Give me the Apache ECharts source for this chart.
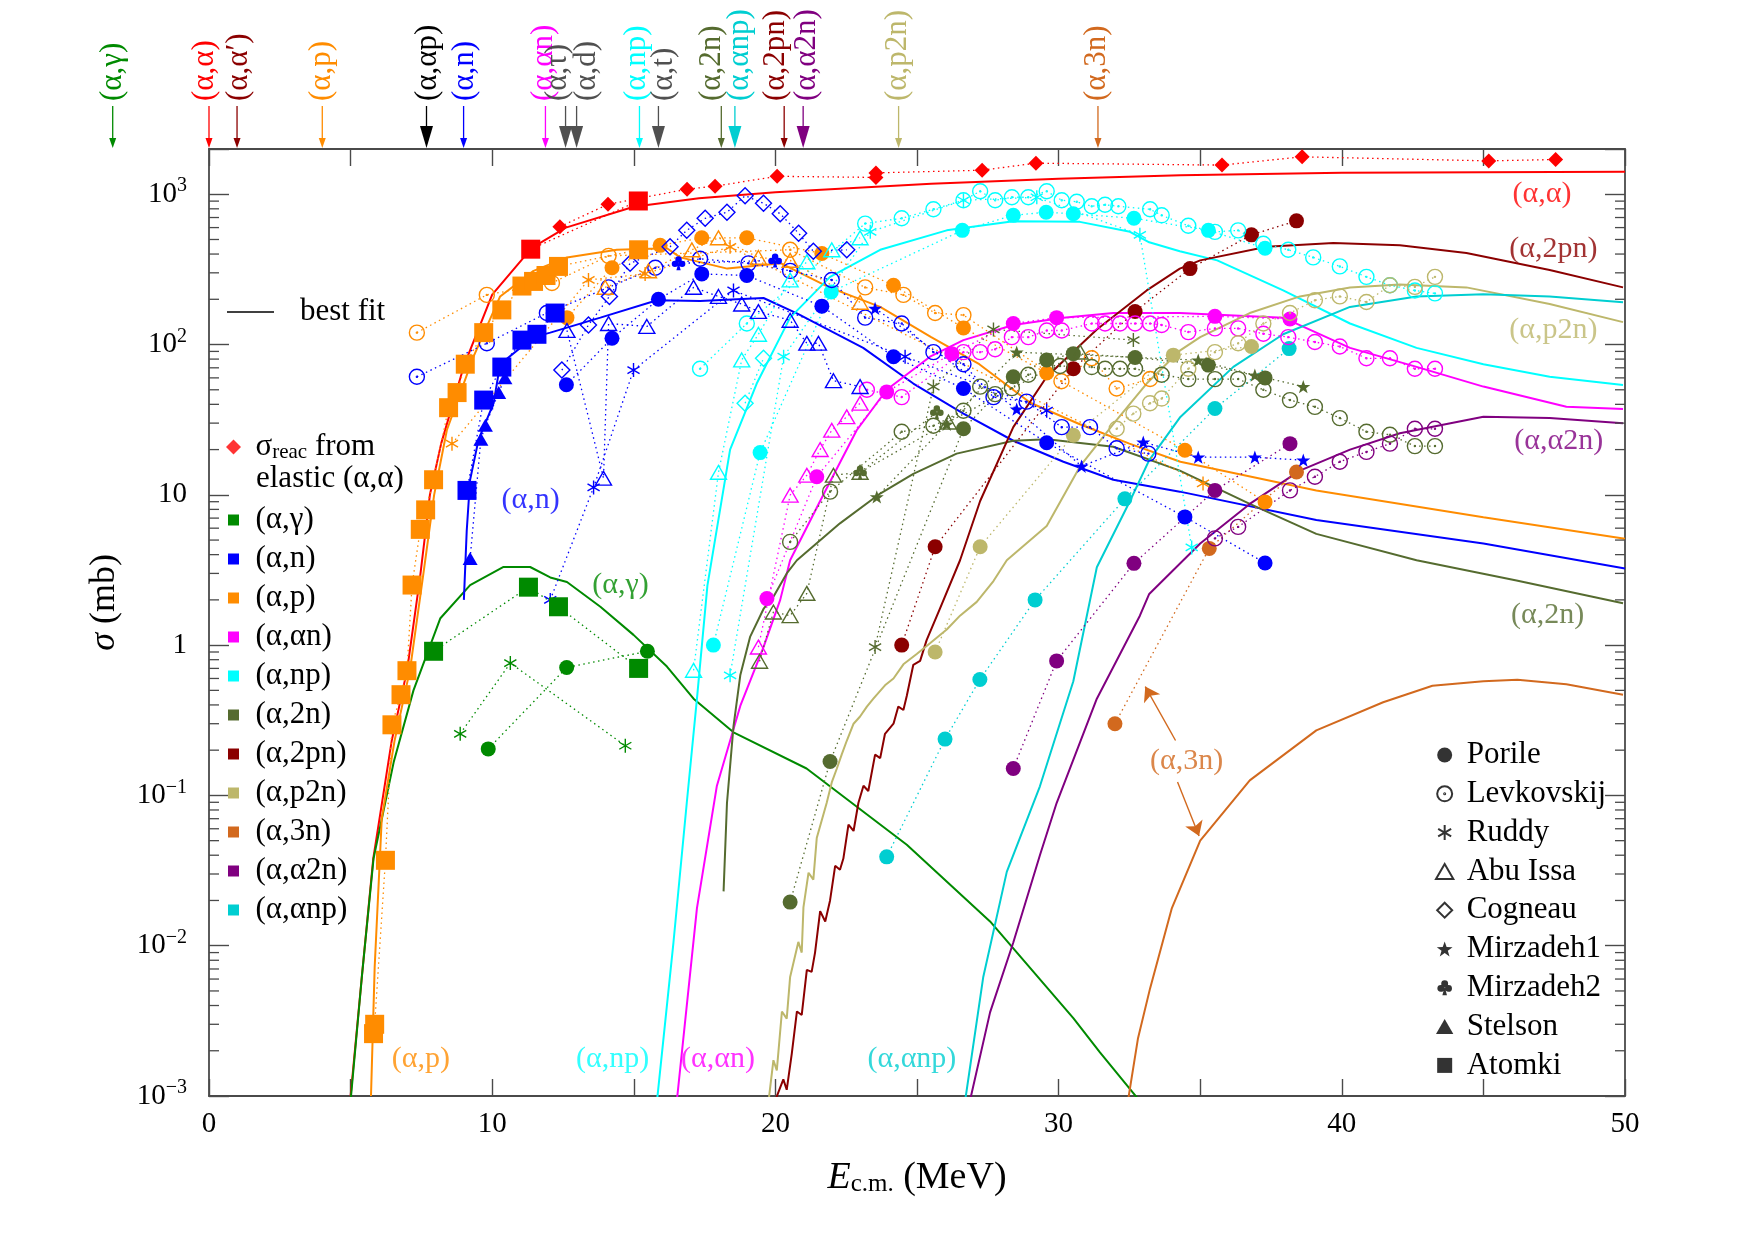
<!DOCTYPE html>
<html>
<head>
<meta charset="utf-8">
<title>Alpha-induced reaction cross sections</title>
<script src="https://cdn.jsdelivr.net/npm/echarts@6/dist/echarts.min.js"></script>
<style>
  html, body { margin: 0; padding: 0; background: #fff; }
  #chart { width: 1759px; height: 1245px; }
</style>
</head>
<body>
<div id="chart"></div>
<script>
// ---- best-fit calculations, [E_cm (MeV), sigma (mb)] ----
const fitAA = [[5.0, 0.001], [5.4, 0.0063], [5.8, 0.038], [6.05, 0.076], [6.45, 0.23], [7.0, 0.69], [7.45, 2.8], [7.8, 10], [8.2, 22], [9.0, 72], [10.0, 215], [11.4, 440], [12.6, 600], [15.0, 825], [17.3, 940], [20.0, 1030], [25.5, 1175], [30.0, 1270], [34.3, 1340], [40.0, 1390], [50.0, 1410]];
const fitAG = [[5.0, 0.00093], [5.4, 0.0063], [5.81, 0.038], [6.52, 0.166], [7.22, 0.5], [8.17, 1.51], [9.22, 2.51], [10.4, 3.31], [11.34, 3.31], [12.05, 2.82], [12.64, 2.63], [13.82, 1.8], [14.99, 1.17], [16.17, 0.72], [17.11, 0.44], [18.52, 0.263], [21.1, 0.151], [24.64, 0.047], [27.58, 0.0145], [30.52, 0.0033], [31.46, 0.00195], [32.9, 0.00091]];
const fitAN = [[9.0, 2.0], [9.1, 5.75], [9.22, 12.6], [9.52, 23.4], [10.05, 40.7], [10.28, 74], [11.46, 112], [12.05, 120], [13.82, 151], [15.82, 197], [17.34, 195], [19.58, 204], [20.76, 161], [23.1, 95], [24.87, 55], [26.64, 34.7], [28.4, 22.9], [30.17, 16.6], [31.93, 12.6], [34.28, 10.5], [39.1, 6.8], [45.0, 4.74], [50.0, 3.24]];
const fitAP = [[5.72, 0.001], [5.85, 0.0072], [6.1, 0.07], [6.55, 0.23], [7.1, 0.69], [7.55, 2.8], [7.95, 10], [8.4, 27], [9.34, 83], [10.28, 209], [11.46, 309], [12.64, 380], [14.4, 427], [16.17, 437], [16.64, 380], [18.3, 320], [20.2, 347], [21.9, 240], [23.7, 178], [25.5, 112], [27.2, 74], [29.0, 41], [30.75, 29.5], [32.5, 21.9], [34.3, 16.6], [39.1, 10.7], [45.0, 7.1], [50.0, 5.1]];
const fitAAN = [[16.52, 0.00093], [17.23, 0.0178], [17.93, 0.115], [18.76, 0.394], [19.58, 0.97], [20.17, 2.0], [20.52, 3.67], [21.58, 9.1], [22.87, 26.9], [23.93, 50], [25.46, 83], [26.64, 107], [28.4, 135], [30.17, 151], [31.93, 162], [34.28, 162], [37.93, 151], [40.29, 95], [42.64, 71], [45.0, 52.5], [47.93, 38.5], [49.93, 37.2]];
const fitANP = [[15.82, 0.00093], [16.4, 0.0105], [16.87, 0.089], [17.23, 0.44], [17.6, 2.5], [18.4, 20], [19.34, 55], [20.52, 151], [21.93, 282], [23.7, 427], [26.05, 575], [28.4, 661], [30.75, 655], [32.52, 562], [33.2, 479], [34.28, 417], [35.6, 363], [37.93, 229], [40.29, 138], [42.64, 95], [45.0, 74], [47.34, 61], [49.93, 53.7]];
const fitA2N = [[18.17, 0.023], [18.29, 0.089], [18.52, 0.288], [18.76, 0.63], [19.11, 1.14], [19.58, 1.74], [19.93, 2.1], [20.4, 3.0], [20.76, 3.67], [22.28, 6.46], [23.7, 10.2], [24.87, 13.8], [26.4, 18.8], [28.4, 22.9], [29.6, 23.4], [31.93, 20.9], [34.28, 14.5], [36.75, 8.7], [39.1, 5.5], [42.64, 3.67], [46.17, 2.69], [49.93, 1.9]];
const fitA2PN = [[19.99, 0.00093], [20.28, 0.00129], [20.4, 0.0011], [20.58, 0.00192], [20.76, 0.00365], [20.93, 0.00346], [21.11, 0.0069], [21.28, 0.0067], [21.4, 0.009], [21.58, 0.017], [21.76, 0.0145], [21.93, 0.02], [22.11, 0.034], [22.28, 0.032], [22.4, 0.038], [22.58, 0.064], [22.76, 0.058], [22.93, 0.089], [23.11, 0.116], [23.28, 0.107], [23.52, 0.187], [23.7, 0.177], [23.87, 0.257], [24.17, 0.3], [24.34, 0.39], [24.52, 0.37], [24.64, 0.46], [24.87, 0.74], [25.11, 0.785], [25.34, 1.08], [25.81, 1.75], [26.52, 3.67], [27.23, 9.1], [28.4, 28.2], [29.58, 61], [31.35, 126], [33.11, 229], [34.28, 320], [35.0, 363], [37.35, 447], [39.7, 474], [42.05, 457], [44.4, 407], [47.34, 313], [49.93, 240]];
const fitAP2N = [[19.76, 0.00093], [19.93, 0.00173], [20.05, 0.00148], [20.23, 0.00365], [20.4, 0.00327], [20.52, 0.0062], [20.81, 0.0106], [20.93, 0.009], [20.99, 0.018], [21.17, 0.0306], [21.34, 0.0275], [21.46, 0.052], [21.81, 0.089], [21.99, 0.122], [22.17, 0.151], [22.34, 0.187], [22.52, 0.231], [22.76, 0.3], [22.99, 0.335], [23.23, 0.39], [23.46, 0.44], [23.87, 0.54], [24.17, 0.6], [24.52, 0.745], [24.99, 0.873], [25.46, 1.03], [26.05, 1.27], [26.52, 1.57], [27.11, 1.94], [27.7, 2.67], [28.17, 3.67], [29.58, 6.2], [30.76, 15.5], [31.93, 29.5], [33.11, 55], [34.28, 91], [35.0, 112], [36.75, 162], [38.52, 209], [40.29, 240], [42.05, 251], [44.4, 240], [47.34, 186], [49.93, 141]];
const fitA3N = [[32.45, 0.00093], [32.8, 0.0024], [33.23, 0.0052], [34.0, 0.0178], [35.0, 0.05], [36.75, 0.126], [39.1, 0.271], [41.46, 0.417], [43.2, 0.537], [45.0, 0.575], [46.2, 0.589], [47.93, 0.55], [49.93, 0.468]];
const fitAA2N = [[26.87, 0.00093], [27.58, 0.0036], [28.4, 0.0105], [29.34, 0.04], [29.93, 0.089], [31.35, 0.44], [32.87, 1.57], [33.2, 2.19], [35.0, 4.74], [36.75, 8.7], [38.52, 14.5], [40.29, 20], [42.05, 25.7], [45.0, 33.1], [47.34, 32.4], [49.93, 29.9]];
const fitAANP = [[26.7, 0.00093], [27.34, 0.0062], [28.17, 0.031], [29.34, 0.115], [30.52, 0.575], [31.35, 3.3], [32.52, 9.1], [33.2, 17], [34.3, 33], [36.17, 71], [37.93, 117], [40.29, 178], [42.64, 209], [45.0, 216], [47.34, 209], [49.93, 191]];

// ---- measured data, [E_cm (MeV), sigma (mb)] ----
const reacElastic = [[12.39, 608], [14.09, 857], [16.88, 1081], [17.87, 1132], [20.06, 1316], [23.55, 1294], [23.55, 1387], [27.3, 1445], [29.2, 1610], [35.77, 1563], [38.6, 1774], [45.19, 1667], [47.55, 1703]];
const atomkiAA = [[11.36, 431], [15.16, 902]];
const atomkiAP = [[5.81, 0.0026], [5.85, 0.003], [6.23, 0.037], [6.46, 0.295], [6.78, 0.468], [6.99, 0.676], [7.17, 2.51], [7.46, 5.89], [7.65, 7.94], [7.93, 12.6], [8.46, 38], [8.76, 47.9], [9.05, 74], [9.7, 120], [10.34, 170], [11.05, 245], [11.46, 263], [11.9, 288], [12.34, 331], [15.17, 427]];
const atomkiAN = [[9.11, 10.7], [9.7, 42.7], [10.34, 70.8], [11.05, 107], [11.58, 117], [12.22, 162]];
const atomkiAG = [[7.93, 0.91], [11.28, 2.43], [12.34, 1.8], [15.17, 0.7]];
const stelsonAN = [[9.22, 3.77], [9.6, 23.4], [9.76, 29], [10.23, 47.9], [10.45, 60]];

const porileAG = [[9.86, 0.204], [12.63, 0.71], [15.48, 0.91]];
const porileAN = [[12.62, 54], [14.23, 110], [15.87, 200], [17.4, 295], [18.99, 288], [21.64, 180], [24.17, 83], [26.64, 51], [29.58, 22.2], [34.46, 7.13], [37.29, 3.52]];
const porileAP = [[12.64, 151], [14.23, 324], [15.93, 457], [17.4, 513], [18.99, 513], [21.64, 403], [24.17, 248], [26.64, 129], [29.58, 64.6], [34.46, 19.8], [37.29, 8.97]];
const porileAAN = [[19.7, 2.04], [21.46, 13.2], [23.93, 48.4], [26.23, 87], [28.4, 138], [29.93, 151], [35.52, 154], [38.17, 148]];
const porileANP = [[17.81, 1.0], [19.46, 19.1], [21.97, 224], [26.6, 575], [28.4, 724], [29.56, 759], [30.52, 741], [32.66, 692], [35.29, 575], [37.29, 437]];
const porileA2N = [[20.52, 0.0195], [21.93, 0.168], [26.64, 27.5], [28.4, 61], [29.58, 79], [30.52, 87], [32.7, 82], [35.29, 73], [37.29, 60]];
const porileA2PN = [[24.46, 1.0], [25.64, 4.51], [30.52, 69], [32.7, 166], [34.64, 320], [36.81, 537], [38.4, 665]];
const porileAP2N = [[25.64, 0.9], [27.23, 4.51], [30.52, 24.9], [34.05, 85], [36.81, 97]];
const porileAA2N = [[28.4, 0.151], [29.93, 0.785], [32.66, 3.5], [35.52, 10.7], [38.17, 21.9]];
const porileA3N = [[31.99, 0.3], [35.32, 4.4], [38.4, 14.2]];
const porileAANP = [[23.93, 0.039], [25.99, 0.237], [27.22, 0.59], [29.17, 2.0], [32.34, 9.4], [35.52, 37.5], [38.14, 94]];

const levAN = [[7.34, 61], [9.81, 102], [11.93, 162], [14.11, 240], [15.76, 324], [17.34, 372], [19.05, 347], [20.52, 309], [21.99, 269], [23.17, 151], [24.46, 138], [25.58, 89], [26.64, 74], [27.7, 44.7], [28.87, 41.7], [30.11, 28.2], [31.11, 28.2], [32.05, 20.4], [33.17, 18.8]];
const levAP = [[7.34, 120], [9.81, 214], [12.11, 257], [14.11, 389], [20.52, 427], [23.17, 240], [24.52, 214], [25.64, 162], [26.64, 157], [30.1, 57], [31.17, 81], [32.05, 51], [33.23, 59]];
const levANP = [[17.34, 69], [18.99, 138], [23.17, 638], [24.46, 692], [25.58, 794], [26.64, 912], [27.23, 1047], [27.76, 912], [28.35, 955], [28.93, 955], [29.58, 1047], [30.11, 912], [30.64, 891], [31.17, 832], [31.64, 851], [32.11, 832], [33.23, 794], [33.64, 724], [34.58, 617], [35.52, 562], [36.34, 575], [37.23, 468], [38.11, 427], [38.99, 380], [39.93, 331], [40.87, 282], [41.7, 248], [42.58, 229], [43.29, 219]];
const levAAN = [[23.23, 50], [24.46, 44.7], [26.64, 89], [27.23, 89], [27.76, 93], [28.35, 112], [28.93, 112], [29.58, 124], [30.11, 124], [31.17, 138], [31.64, 138], [32.17, 138], [32.7, 138], [33.23, 138], [33.64, 135], [34.58, 121], [35.52, 128], [36.34, 128], [37.23, 118], [38.11, 112], [39.05, 104], [39.93, 97], [40.87, 81], [41.7, 81], [42.58, 69], [43.29, 69]];
const levA2N = [[20.52, 4.86], [21.93, 10.5], [24.46, 26.3], [25.58, 28.8], [26.64, 36.3], [27.23, 52.5], [27.76, 46.8], [28.35, 51.3], [28.93, 63], [30.05, 72], [31.17, 70.8], [31.64, 69], [32.17, 69], [32.7, 69], [33.64, 63], [34.58, 58.9], [35.52, 58.9], [36.34, 58.9], [37.23, 50], [38.17, 42.7], [39.05, 38.5], [39.93, 32.4], [40.87, 26.3], [41.7, 25.1], [42.58, 21.1], [43.29, 21.1]];
const levAP2N = [[32.05, 27.5], [32.64, 34.7], [33.23, 40.7], [33.64, 43.7], [34.58, 69], [35.52, 89], [36.34, 102], [37.23, 138], [38.17, 162], [39.05, 197], [39.93, 209], [40.87, 192], [41.7, 248], [42.58, 242], [43.29, 282]];
const levAA2N = [[35.52, 5.13], [36.34, 6.12], [38.17, 10.7], [39.05, 13.2], [39.93, 16.6], [40.87, 19.3], [41.7, 21.9], [42.58, 27.5], [43.29, 27.5]];

const ruddyAG = [[8.87, 0.257], [10.64, 0.76], [14.7, 0.214]];
const ruddyAP = [[8.58, 21.9], [13.4, 269], [15.4, 295], [18.4, 447], [35.1, 11.9]];
const ruddyAN = [[12.05, 2.0], [13.58, 11.2], [14.99, 67.6], [18.52, 229], [24.58, 83], [29.58, 36.3]];
const ruddyANP = [[18.4, 0.63], [20.29, 83], [23.35, 562], [26.64, 912], [29.23, 955], [32.87, 537], [34.7, 4.47]];
const ruddyA2N = [[23.52, 0.97], [25.58, 52.5], [27.7, 126], [32.64, 107]];

const abuAN = [[12.64, 124], [13.93, 12.9], [14.11, 138], [15.46, 132], [17.11, 240], [17.99, 209], [18.81, 186], [19.4, 166], [20.52, 145], [21.11, 102], [21.52, 102], [22.05, 57.5], [22.99, 52.5]];
const abuAP = [[13.99, 240], [15.52, 309], [17.05, 427], [17.99, 513], [19.4, 380], [20.52, 363], [22.99, 191]];
const abuANP = [[17.11, 0.68], [17.99, 14.1], [18.81, 79], [19.4, 117], [20.52, 269], [21.11, 355], [21.99, 427], [22.99, 513]];
const abuAAN = [[19.4, 0.97], [20.52, 9.95], [21.11, 13.5], [21.58, 20], [21.99, 26.9], [22.52, 33.1], [22.99, 40.7]];
const abuA2N = [[19.44, 0.78], [19.93, 1.66], [20.52, 1.57], [21.11, 2.21], [22.05, 13.5], [22.99, 14.1], [26.11, 30.5], [30.76, 89]];

const cogAN = [[12.46, 67.6], [13.4, 135], [14.14, 209], [14.87, 347], [16.28, 447], [16.87, 575], [17.52, 692], [18.29, 759], [18.93, 977], [19.58, 871], [20.17, 741], [20.82, 550], [21.34, 417], [22.52, 427]];
const cogANP = [[18.93, 40.7], [19.58, 81]];

const mir1AN = [[23.52, 174], [28.52, 37.2], [30.81, 15.5], [32.99, 22.4], [34.93, 17.8], [36.93, 17.8], [38.64, 17]];
const mir1A2N = [[23.58, 9.7], [26.05, 29.5], [28.52, 89], [34.93, 78.7], [36.93, 62.5], [38.64, 52.5]];
const mir2AN = [[16.58, 347], [19.99, 363]];
const mir2A2N = [[22.99, 14.1], [25.7, 35.5]];

// ---- reaction thresholds shown above the frame ----
const thresholdNames = ['(α,γ)', '(α,α)', '(α,α′)', '(α,p)', '(α,αp)', '(α,n)', '(α,αn)', '(α,τ)', '(α,d)', '(α,np)', '(α,t)', '(α,2n)', '(α,αnp)', '(α,2pn)', '(α,α2n)', '(α,p2n)', '(α,3n)'];
const thresholdE = [-3.4, 0, 0.99, 4.0, 7.68, 8.99, 11.88, 12.59, 12.98, 15.2, 15.87, 18.09, 18.57, 20.31, 20.98, 24.35, 31.39];
const thresholdTextE = [-3.4, -0.15, 1.07, 4.0, 7.72, 9.03, 11.84, 12.31, 13.34, 15.12, 16.07, 17.74, 18.76, 20.03, 21.1, 24.31, 31.35];

// ---- curve labels inside the frame ----
const curveLabelText = ['(α,α)', '(α,2pn)', '(α,p2n)', '(α,α2n)', '(α,2n)', '(α,n)', '(α,γ)', '(α,p)', '(α,np)', '(α,αn)', '(α,αnp)', '(α,3n)'];
const curveLabelE = [47.07, 47.47, 47.47, 47.66, 47.27, 11.36, 14.53, 7.48, 14.25, 17.97, 24.82, 34.52];
const curveLabelSigma = [1000, 431, 125, 22.8, 1.58, 9.2, 2.49, 0.00176, 0.00176, 0.00176, 0.00176, 0.17];

const channelNames = ['(α,γ)', '(α,n)', '(α,p)', '(α,αn)', '(α,np)', '(α,2n)', '(α,2pn)', '(α,p2n)', '(α,3n)', '(α,α2n)', '(α,αnp)'];

const FONT = '"Liberation Serif", "DejaVu Serif", serif';
const AXIS = '#4a4a4a';
const COLORS = {
  aa: '#ff0000', ag: '#008a00', an: '#0000ff', ap: '#ff8c00', aan: '#ff00ff', anp: '#00ffff',
  a2n: '#556b2f', a2pn: '#8b0000', ap2n: '#bdb76b', a3n: '#d2691e', aa2n: '#800080', aanp: '#00ced1',
  gray: '#505050', black: '#000000'
};
const thresholdKey = ['ag', 'aa', 'a2pn', 'ap', 'black', 'an', 'aan', 'gray', 'gray', 'anp', 'gray', 'a2n', 'aanp', 'a2pn', 'aa2n', 'ap2n', 'a3n'];
const thresholdBig = [false, false, false, false, true, false, false, true, true, false, true, false, true, false, true, false, false];
const curveLabelKey = ['aa', 'a2pn', 'ap2n', 'aa2n', 'a2n', 'an', 'ag', 'ap', 'anp', 'aan', 'aanp', 'a3n'];

const SYM = {
  circle: 'path://M0,10A10,10 0 1,1 20,10A10,10 0 1,1 0,10Z',
  ring: 'path://M0,10A10,10 0 1,1 20,10A10,10 0 1,1 0,10Z M9.3,10A0.7,0.7 0 1,1 10.7,10A0.7,0.7 0 1,1 9.3,10Z',
  square: 'path://M0,0H20V20H0Z',
  tri: 'path://M10,0L20,17.3L0,17.3Z',
  diamond: 'path://M10,0L20,10L10,20L0,10Z',
  aster: 'path://M10,0L10,20M1.34,5L18.66,15M1.34,15L18.66,5',
  star: 'path://M10,0L12.35,6.76L19.51,6.91L13.8,11.24L15.88,18.09L10,14L4.12,18.09L6.2,11.24L0.49,6.91L7.65,6.76Z',
  club: 'path://M10,0.5A4.5,4.5 0 1,1 9.99,0.5Z M5,6.5A4.5,4.5 0 1,1 4.99,6.5Z M15,6.5A4.5,4.5 0 1,1 14.99,6.5Z M10,9L13,20L7,20Z',
  dash: 'path://M0,0H47V1.6H0Z'
};
const MARKERS = {
  porile: { symbol: SYM.circle, size: 15, open: false },
  lev: { symbol: SYM.ring, size: 15, open: true },
  ruddy: { symbol: SYM.aster, size: 14, open: true },
  abu: { symbol: SYM.tri, size: 16, open: true },
  cog: { symbol: SYM.diamond, size: 16, open: true },
  mir1: { symbol: SYM.star, size: 14, open: false },
  mir2: { symbol: SYM.club, size: 14, open: false },
  stelson: { symbol: SYM.tri, size: 15, open: false },
  atomki: { symbol: SYM.square, size: 19, open: false },
  reac: { symbol: SYM.diamond, size: 15, open: false }
};
const DATASETS = [['Porile', 'porile'], ['Levkovskij', 'lev'], ['Ruddy', 'ruddy'], ['Abu Issa', 'abu'], ['Cogneau', 'cog'], ['Mirzadeh1', 'mir1'], ['Mirzadeh2', 'mir2'], ['Stelson', 'stelson'], ['Atomki', 'atomki']];

const fits = [
  ['(α,α) fit', 'aa', fitAA], ['(α,γ)', 'ag', fitAG], ['(α,n)', 'an', fitAN], ['(α,p)', 'ap', fitAP],
  ['(α,αn)', 'aan', fitAAN], ['(α,np)', 'anp', fitANP], ['(α,2n)', 'a2n', fitA2N], ['(α,2pn)', 'a2pn', fitA2PN],
  ['(α,p2n)', 'ap2n', fitAP2N], ['(α,3n)', 'a3n', fitA3N], ['(α,α2n)', 'aa2n', fitAA2N], ['(α,αnp)', 'aanp', fitAANP]
];
const pointSets = [
  ['porile', 'ag', porileAG], ['porile', 'an', porileAN], ['porile', 'ap', porileAP], ['porile', 'aan', porileAAN],
  ['porile', 'anp', porileANP], ['porile', 'a2n', porileA2N], ['porile', 'a2pn', porileA2PN], ['porile', 'ap2n', porileAP2N],
  ['porile', 'aa2n', porileAA2N], ['porile', 'a3n', porileA3N], ['porile', 'aanp', porileAANP],
  ['lev', 'an', levAN], ['lev', 'ap', levAP], ['lev', 'anp', levANP], ['lev', 'aan', levAAN],
  ['lev', 'a2n', levA2N], ['lev', 'ap2n', levAP2N], ['lev', 'aa2n', levAA2N],
  ['ruddy', 'ag', ruddyAG], ['ruddy', 'ap', ruddyAP], ['ruddy', 'an', ruddyAN], ['ruddy', 'anp', ruddyANP], ['ruddy', 'a2n', ruddyA2N],
  ['abu', 'an', abuAN], ['abu', 'ap', abuAP], ['abu', 'anp', abuANP], ['abu', 'aan', abuAAN], ['abu', 'a2n', abuA2N],
  ['cog', 'an', cogAN], ['cog', 'anp', cogANP],
  ['mir1', 'an', mir1AN], ['mir1', 'a2n', mir1A2N], ['mir2', 'an', mir2AN], ['mir2', 'a2n', mir2A2N],
  ['stelson', 'an', stelsonAN],
  ['atomki', 'ap', atomkiAP], ['atomki', 'an', atomkiAN], ['atomki', 'ag', atomkiAG], ['atomki', 'aa', atomkiAA],
  ['reac', 'aa', reacElastic]
];

// minor ticks of the log axis (2..9 x 10^n)
const yMinor = [];
for (let p = -3; p <= 3; p++) {
  for (let k = 2; k <= 9; k++) {
    const v = k * Math.pow(10, p);
    if (v < 2000) yMinor.push(v);
  }
}

function yLabel(v) {
  const lg = Math.log10(v);
  const e = Math.round(lg);
  if (Math.abs(lg - e) > 1e-6) return '';
  if (e === 0) return '1';
  if (e === 1) return '10';
  return '10{sup|' + (e < 0 ? '−' : '') + Math.abs(e) + '}';
}

function renderMinorTicks(params, api) {
  const cs = params.coordSys;
  const y = api.coord([0, api.value(1)])[1];
  return {
    type: 'group',
    children: [
      { type: 'line', shape: { x1: cs.x, y1: y, x2: cs.x + 10, y2: y }, style: { stroke: AXIS, lineWidth: 1.3 } },
      { type: 'line', shape: { x1: cs.x + cs.width - 10, y1: y, x2: cs.x + cs.width, y2: y }, style: { stroke: AXIS, lineWidth: 1.3 } }
    ]
  };
}

function renderThreshold(params, api) {
  const i = api.value(2);
  const top = params.coordSys.y;
  const xa = api.coord([thresholdE[i], 1])[0];
  const xt = api.coord([thresholdTextE[i], 1])[0];
  const color = COLORS[thresholdKey[i]];
  const headL = thresholdBig[i] ? 22 : 10;
  const headW = thresholdBig[i] ? 6.5 : 3.5;
  return {
    type: 'group',
    children: [
      { type: 'line', shape: { x1: xa, y1: top - 43, x2: xa, y2: top - headL }, style: { stroke: color, lineWidth: 1.3 } },
      { type: 'polygon', shape: { points: [[xa - headW, top - headL - 1], [xa + headW, top - headL - 1], [xa, top - 1]] }, style: { fill: color } },
      { type: 'text', x: xt, y: top - 48, rotation: Math.PI / 2,
        style: { text: thresholdNames[i], fill: color, fontSize: 31, fontFamily: FONT, align: 'left', verticalAlign: 'middle' } }
    ]
  };
}

const series = [];
fits.forEach(([name, key, data]) => {
  series.push({
    type: 'line', name, data, symbol: 'none', clip: true, silent: true, z: 3,
    lineStyle: { color: COLORS[key], width: 2 }, itemStyle: { color: COLORS[key] }
  });
});
pointSets.forEach(([ds, key, data]) => {
  const m = MARKERS[ds];
  const c = COLORS[key];
  series.push({
    type: 'line', data, symbol: m.symbol, symbolSize: m.size, symbolKeepAspect: true, showSymbol: true,
    clip: true, silent: true, z: 4,
    lineStyle: { color: c, width: 1.3, type: [1.5, 3.5] },
    itemStyle: m.open ? { color: 'rgba(0,0,0,0)', borderColor: c, borderWidth: 1.4 } : { color: c }
  });
});

// entries that only feed the legends
series.push({ type: 'line', name: 'best fit', data: [], symbol: 'none', lineStyle: { color: '#000', width: 1.6 }, itemStyle: { color: '#000' } });
series.push({ type: 'scatter', name: 'σreac', data: [], symbol: SYM.diamond, symbolKeepAspect: true, itemStyle: { color: COLORS.aa } });
DATASETS.forEach(([name, ds]) => {
  const m = MARKERS[ds];
  series.push({
    type: 'scatter', name, data: [], symbol: m.symbol, symbolKeepAspect: true,
    itemStyle: m.open ? { color: 'rgba(0,0,0,0)', borderColor: '#000', borderWidth: 1.3 } : { color: '#000' }
  });
});

series.push({ type: 'custom', data: yMinor.map(v => [0, v]), renderItem: renderMinorTicks, silent: true, z: 5 });
series.push({ type: 'custom', data: thresholdE.map((e, i) => [e, 1000, i]), renderItem: renderThreshold, silent: true, clip: false, z: 6 });
series.push({
  type: 'scatter', silent: true, z: 7, symbolSize: 1, itemStyle: { color: 'rgba(0,0,0,0)' },
  data: curveLabelText.map((t, i) => ({ name: t, value: [curveLabelE[i], curveLabelSigma[i]], label: { color: COLORS[curveLabelKey[i]] } })),
  label: { show: true, position: 'inside', formatter: '{b}', fontFamily: FONT, fontSize: 30 },
  markLine: {
    silent: true, symbol: ['none', 'arrow'], symbolSize: 14, animation: false,
    lineStyle: { color: COLORS.a3n, width: 1.4, type: 'solid' }, label: { show: false },
    data: [
      [{ coord: [34.13, 0.232] }, { coord: [33.06, 0.53] }],
      [{ coord: [34.2, 0.123] }, { coord: [34.96, 0.0537] }]
    ]
  }
});

const axisLine = { show: true, onZero: false, lineStyle: { color: AXIS, width: 1.8 } };
const legendText = { fontFamily: FONT, fontSize: 31, lineHeight: 32, color: '#000' };

const option = {
  animation: false,
  backgroundColor: '#fff',
  grid: { left: 209, right: 134, top: 149, bottom: 149, outerBoundsMode: 'none' },
  xAxis: [
    {
      type: 'value', min: 0, max: 50, interval: 5, position: 'bottom',
      axisLine, axisTick: { inside: true, length: 17, lineStyle: { color: AXIS, width: 1.4 } },
      axisLabel: { formatter: v => (v % 10 === 0 ? String(v) : ''), fontFamily: FONT, fontSize: 29, color: '#000', margin: 14 },
      splitLine: { show: false },
      name: '{i|E}{sub|c.m.} (MeV)', nameLocation: 'middle', nameGap: 63,
      nameTextStyle: {
        fontFamily: FONT, fontSize: 38, lineHeight: 38, color: '#000',
        rich: {
          i: { fontFamily: FONT, fontStyle: 'italic', fontSize: 38, lineHeight: 38 },
          sub: { fontFamily: FONT, fontSize: 25, lineHeight: 20, verticalAlign: 'bottom' }
        }
      }
    },
    {
      type: 'value', min: 0, max: 50, interval: 5, position: 'top',
      axisLine, axisTick: { inside: true, length: 17, lineStyle: { color: AXIS, width: 1.4 } },
      axisLabel: { show: false }, splitLine: { show: false }
    }
  ],
  yAxis: [
    {
      type: 'log', logBase: 10, min: 0.001, max: 2000, position: 'left',
      axisLine, axisTick: { inside: true, length: 20, lineStyle: { color: AXIS, width: 1.4 } },
      axisLabel: {
        formatter: yLabel, fontFamily: FONT, fontSize: 29, lineHeight: 36, color: '#000', margin: 22,
        rich: { sup: { fontFamily: FONT, fontSize: 20, lineHeight: 16, verticalAlign: 'top' } }
      },
      splitLine: { show: false },
      name: '{i|σ} (mb)', nameLocation: 'middle', nameGap: 86, nameRotate: 90,
      nameTextStyle: {
        fontFamily: FONT, fontSize: 36, color: '#000', padding: [0, 0, 0, 40],
        rich: { i: { fontFamily: FONT, fontStyle: 'italic', fontSize: 36 } }
      }
    },
    {
      type: 'log', logBase: 10, min: 0.001, max: 2000, position: 'right',
      axisLine, axisTick: { inside: true, length: 20, lineStyle: { color: AXIS, width: 1.4 } },
      axisLabel: { show: false }, splitLine: { show: false }
    }
  ],
  legend: [
    {
      data: [{ name: 'best fit', icon: SYM.dash }], left: 227, top: 296, padding: 0, selectedMode: false,
      itemWidth: 47, itemHeight: 14,
      formatter: n => '{g| }' + n,
      textStyle: Object.assign({}, legendText, { rich: { g: { width: 21 } } })
    },
    {
      data: ['σreac'], left: 226, top: 431, padding: 0, selectedMode: false,
      itemWidth: 34, itemHeight: 15,
      formatter: () => '{t|σ}{sub|reac}{t| from}',
      textStyle: Object.assign({}, legendText, {
        rich: {
          t: { fontFamily: FONT, fontSize: 31, lineHeight: 32, color: '#000' },
          sub: { fontFamily: FONT, fontSize: 21, lineHeight: 18, verticalAlign: 'bottom', color: '#000' }
        }
      })
    },
    {
      data: channelNames.map(n => ({ name: n, icon: SYM.square })), left: 228, top: 504, orient: 'vertical',
      padding: 0, selectedMode: false, itemWidth: 34, itemHeight: 11, itemGap: 7, textStyle: legendText
    },
    {
      data: DATASETS.map(d => d[0]), left: 1435, top: 739, orient: 'vertical',
      padding: 0, selectedMode: false, itemWidth: 34, itemHeight: 15, itemGap: 6.8, textStyle: legendText
    }
  ],
  graphic: [
    { type: 'text', left: 256, top: 463, style: { text: 'elastic (α,α)', fontFamily: FONT, fontSize: 31, fill: '#000' } }
  ],
  series
};

const chart = echarts.init(document.getElementById('chart'), null, { renderer: 'canvas' });
chart.setOption(option);
</script>
</body>
</html>
